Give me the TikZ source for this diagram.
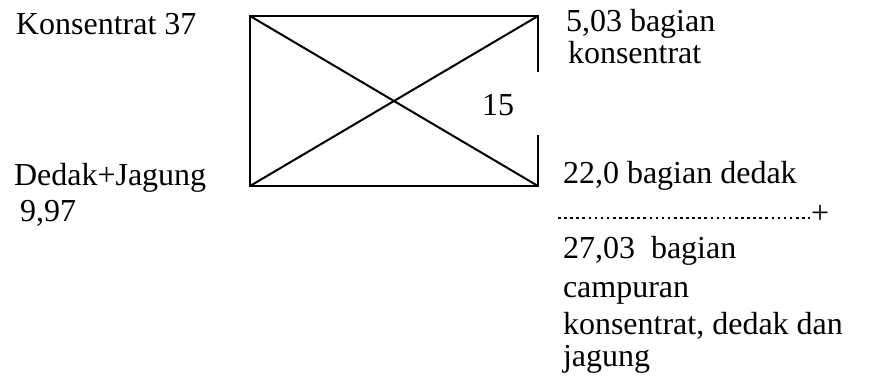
\documentclass[tikz,border=0pt]{standalone}
\usepackage{fontspec}
\setmainfont{Liberation Serif}
\usetikzlibrary{positioning}

\begin{document}
\begin{tikzpicture}[x=1pt,y=-1pt,line width=2pt,
  lbl/.style={anchor=base west,inner sep=0pt,font=\fontsize{32}{38}\selectfont}]
\useasboundingbox (0,0) rectangle (871,381);
% kotak silang
\coordinate (tl) at (250,16);
\coordinate (tr) at (538,16);
\coordinate (bl) at (250,186);
\coordinate (br) at (538,186);
\coordinate (g1) at (538,72);
\coordinate (g2) at (538,135);
\draw (g1) -- (tr) -- (tl) -- (bl) -- (br) -- (g2);
\draw (tl) -- (br);
\draw (bl) -- (tr);
\node[lbl] (n15) at (481,115) {15};
% kiri
\node[lbl] (kons) at (15,34) {Konsentrat 37};
\node[lbl] (dedak) at (13,185) {Dedak+Jagung};
\node[lbl] (dval) at (19,221) {9,97};
% kanan
\node[lbl] (r1) at (565,31) {5,03 bagian};
\node[lbl] (r2) at (567,63) {konsentrat};
\node[lbl] (r3) at (562,183) {22,0 bagian dedak};
\node[lbl] (plus) at (810,223) {+};
\coordinate (d0) at (558,218);
\draw[line width=2.6pt,dash pattern=on 2.6pt off 3.5pt] (d0) -- (d0 -| plus.west);
\node[lbl] (s1) at (562,258) {27,03\ \ bagian};
\node[lbl] (s2) at (562,297) {campuran};
\node[lbl] (s3) at (562,334) {konsentrat, dedak dan};
\node[lbl] (s4) at (562,366) {jagung};
\end{tikzpicture}
\end{document}
